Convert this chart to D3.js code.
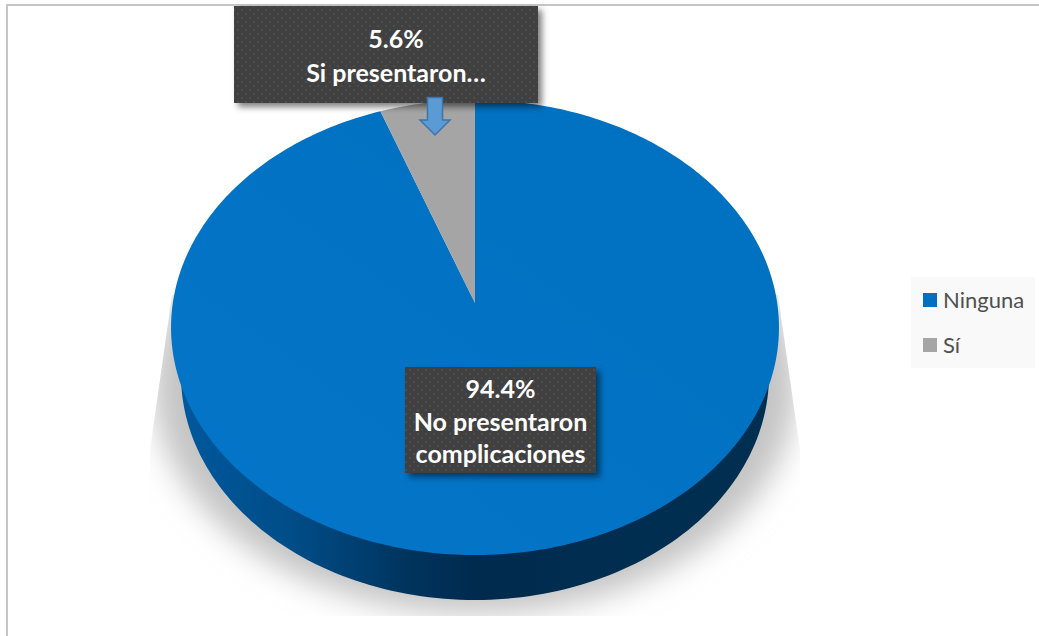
<!DOCTYPE html>
<html><head><meta charset="utf-8">
<script src="https://cdn.jsdelivr.net/npm/d3@7"></script>
<style>html,body{margin:0;padding:0;background:#fff}svg{display:block}text{font-family:Lato,"Open Sans",sans-serif}</style>
</head><body><svg id="c" width="1039" height="636"></svg>
<script>
const categories = ["Ninguna", "Sí"];
const values = [94.4, 5.6];
const colors = ["#0070c0", "#a5a5a5"];
const labelLines = [["94.4%", "No presentaron", "complicaciones"], ["5.6%", "Si presentaron…"]];

const svg = d3.select("#c");
const defs = svg.append("defs");
const W = 1039, H = 636;

// perspective map of the unit disc
const apex = {x: 475, y: 303}, K = 0.1077, TA = 224.9, TB = 302.2;
const proj = a => {
  const u = Math.sin(a), v = Math.cos(a), d = 1 + K * v;
  return [apex.x + TB * u / d, apex.y - TA * v / d];
};
const pie = d3.pie().sort(null).value(d => d);
const arcs = pie(values);
const line = d3.line();
const sliceD = s => {
  const n = Math.max(8, Math.ceil((s.endAngle - s.startAngle) * 60));
  const pts = d3.range(n + 1).map(i => proj(s.startAngle + (s.endAngle - s.startAngle) * i / n));
  return line([[apex.x, apex.y], ...pts]) + "Z";
};

// filters / gradients
const f = defs.append("filter").attr("id", "sh").attr("x", "-20%").attr("y", "-20%").attr("width", "140%").attr("height", "140%");
f.append("feGaussianBlur").attr("stdDeviation", 15);
const bs = defs.append("filter").attr("id", "bs").attr("x", "-15%").attr("y", "-15%").attr("width", "130%").attr("height", "130%");
bs.append("feGaussianBlur").attr("in", "SourceAlpha").attr("stdDeviation", 3).attr("result", "b");
bs.append("feOffset").attr("in", "b").attr("dx", 4).attr("dy", 4).attr("result", "o");
bs.append("feFlood").attr("flood-color", "#000").attr("flood-opacity", 0.5);
bs.append("feComposite").attr("in2", "o").attr("operator", "in").attr("result", "s");
const m = bs.append("feMerge"); m.append("feMergeNode").attr("in", "s"); m.append("feMergeNode").attr("in", "SourceGraphic");

const wg = defs.append("linearGradient").attr("id", "wall").attr("gradientUnits", "userSpaceOnUse")
  .attr("x1", 175).attr("x2", 775).attr("y1", 0).attr("y2", 0);
[[0, "#00599e"], [0.2, "#004c87"], [0.38, "#00355f"], [0.5, "#002a4e"], [0.7, "#002d50"], [1, "#002f52"]]
  .forEach(([o, c]) => wg.append("stop").attr("offset", o).attr("stop-color", c));
const tg = defs.append("linearGradient").attr("id", "top0").attr("x1", 0).attr("y1", 1).attr("x2", 1).attr("y2", 0);
tg.append("stop").attr("offset", 0).attr("stop-color", "#0475c8");
tg.append("stop").attr("offset", 1).attr("stop-color", "#0070c0");
const pat = defs.append("pattern").attr("id", "dots").attr("width", 8).attr("height", 8).attr("patternUnits", "userSpaceOnUse");
pat.append("rect").attr("width", 8).attr("height", 8).attr("fill", "#404040");
pat.append("rect").attr("x", 1).attr("y", 1).attr("width", 2).attr("height", 2).attr("fill", "#4e4e4e");
pat.append("rect").attr("x", 5).attr("y", 5).attr("width", 2).attr("height", 2).attr("fill", "#4e4e4e");

// frame
svg.append("rect").attr("width", W).attr("height", H).attr("fill", "#fff");
svg.append("path").attr("d", "M7 636V5H1039").attr("fill", "none").attr("stroke", "#c6c6c6").attr("stroke-width", 2);

// shadow
const cp = defs.append("clipPath").attr("id", "shc");
cp.append("path").attr("d", "M172 295L150 450V616H800V450L778 295Z");
svg.append("g").attr("clip-path", "url(#shc)").append("ellipse")
  .attr("cx", 475).attr("cy", 384).attr("rx", 322).attr("ry", 230)
  .attr("fill", "#c4c4c4").attr("filter", "url(#sh)");

// side wall
const wallBottom = a => [475 + 294 * Math.sin(a), 375 - 225 * Math.cos(a)];
svg.append("path").attr("d", () => {
  const lo = d3.range(0, 121).map(i => Math.PI * (0.5 + i / 120));
  return line(lo.map(a => wallBottom(a))) + "L" + line(lo.slice().reverse().map(a => wallBottom(a).map((v, j) => j ? v - 72 : v))).slice(1) + "Z";
}).attr("fill", "url(#wall)");

// top face
svg.selectAll("path.slice").data(arcs).join("path").attr("class", "slice")
  .attr("d", sliceD).attr("fill", (d, i) => i === 0 ? "url(#top0)" : colors[i]);

// labels
const boxes = [{x: 405, y: 367, w: 191, h: 106, cx: 500.5, b: [398, 431, 463]}, {x: 234, y: 6, w: 304, h: 97, cx: 396, b: [48, 82]}];
boxes.forEach((b, i) => {
  svg.append("rect").attr("x", b.x).attr("y", b.y).attr("width", b.w).attr("height", b.h)
    .attr("fill", "url(#dots)").attr("filter", "url(#bs)");
  svg.append("g").selectAll("text").data(labelLines[i]).join("text")
    .attr("x", b.cx).attr("y", (d, j) => b.b[j])
    .attr("text-anchor", "middle").attr("font-size", 25).attr("font-weight", 700).attr("fill", "#fff").text(d => d);
});

// callout arrow
svg.append("path").attr("d", d3.line()([[427.5, 97.5], [442.5, 97.5], [442.5, 120], [450, 120], [435, 135], [420, 120], [427.5, 120]]) + "Z")
  .attr("fill", "#5b9bd5").attr("stroke", "#3f74a8").attr("stroke-width", 1.5);

// legend
svg.append("rect").attr("x", 911).attr("y", 277).attr("width", 124).attr("height", 91).attr("fill", "#f9f9f9");
const ly = d3.scalePoint().domain(categories).range([300, 345]);
const lg = svg.selectAll("g.lg").data(categories).join("g").attr("class", "lg");
lg.append("rect").attr("x", 923).attr("y", d => ly(d) - 7).attr("width", 14).attr("height", 14)
  .attr("fill", (d, i) => colors[i]);
lg.append("text").attr("x", 943).attr("y", d => ly(d) + 8).attr("font-size", 22).attr("fill", "#505050").text(d => d);
</script></body></html>
